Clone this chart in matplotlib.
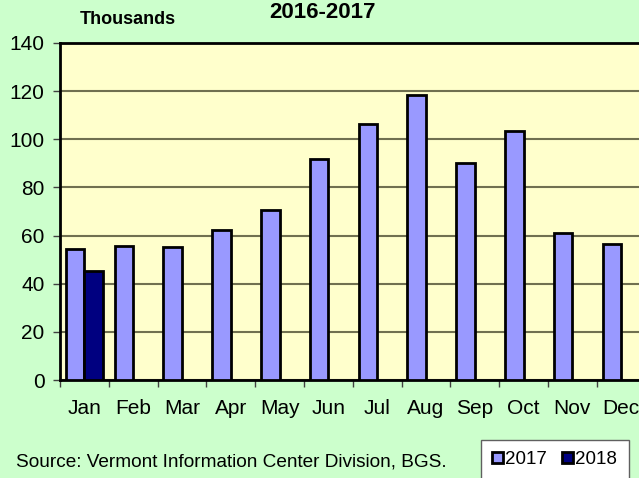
import matplotlib
matplotlib.use('Agg')
import matplotlib.pyplot as plt
import numpy as np

plt.rcParams['font.family'] = ['Liberation Sans', 'DejaVu Sans']

months = ['Jan', 'Feb', 'Mar', 'Apr', 'May', 'Jun', 'Jul', 'Aug', 'Sep', 'Oct', 'Nov', 'Dec']
values2017 = [54.5, 55.8, 55.3, 62.3, 70.6, 91.7, 106.2, 118.3, 90.2, 103.6, 61.2, 56.5]
values2018 = [45.4]
yticks = [0, 20, 40, 60, 80, 100, 120, 140]

bg = '#CCFFCC'
plotbg = '#FFFFCC'

fig = plt.figure(figsize=(6.39, 4.78), dpi=100)
fig.patch.set_facecolor(bg)

# plot area runs past the right edge of the picture, as in the original
ax = fig.add_axes([60 / 639, 98 / 478, 585.6 / 639, 337 / 478])
ax.set_facecolor(plotbg)

x = np.arange(len(months))
w = 0.38
ax.bar(x - 0.19, values2017, width=w, color='#9999FF', edgecolor='black',
       linewidth=2, label='2017', zorder=3)
ax.bar(x[:len(values2018)] + 0.19, values2018, width=w, color='#000080',
       edgecolor='black', linewidth=2, label='2018', zorder=3)

ax.set_xlim(-0.5, len(months) - 0.5)
ax.set_ylim(0, 140)
ax.set_yticks(yticks)
ax.set_yticklabels([str(v) for v in yticks], fontsize=15)
ax.set_xticks(x)
ax.set_xticklabels(months, fontsize=15)
ax.set_xticks(np.arange(len(months)) - 0.5, minor=True)
ax.tick_params(axis='x', which='major', length=0, pad=14)
ax.tick_params(axis='x', which='minor', length=5, width=1, color='#404040', direction='out')
ax.tick_params(axis='y', length=5, width=1, color='#404040', pad=6)

ax.grid(axis='y', color='#707050', linewidth=1.5, zorder=1)
for side in ['left', 'top']:
    ax.spines[side].set_linewidth(2)
    ax.spines[side].set_color('black')
ax.spines['bottom'].set_linewidth(2)
ax.spines['right'].set_visible(False)

fig.text(80 / 639, 1 - 20 / 478, 'Thousands', fontsize=13, fontweight='bold',
         ha='left', va='center')
fig.text(323 / 639, 1 - 2 / 478, '2016-2017', fontsize=16, fontweight='bold',
         ha='center', va='top')
fig.text(16 / 639, 1 - 462 / 478, 'Source: Vermont Information Center Division, BGS.',
         fontsize=13.7, ha='left', va='center')

leg = fig.legend(loc='upper left', bbox_to_anchor=(481 / 639, 1 - 440 / 478),
                 ncol=2, fontsize=13.5, frameon=True, fancybox=False,
                 handlelength=0.55, handleheight=0.55, handletextpad=0.15,
                 columnspacing=0.8, borderpad=0.6, borderaxespad=0)
leg.get_frame().set_edgecolor('#606060')
leg.get_frame().set_linewidth(1)
leg.get_frame().set_facecolor('white')
leg.get_frame().set_alpha(1)

fig.savefig('out.png', dpi=100, facecolor=bg)
